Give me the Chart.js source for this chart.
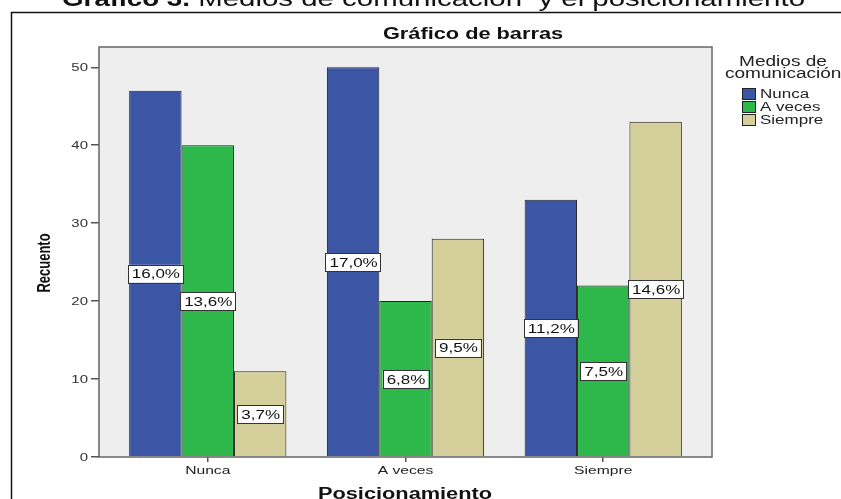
<!DOCTYPE html>
<html>
<head>
<meta charset="utf-8">
<script src="https://cdn.jsdelivr.net/npm/chart.js@4.4.1/dist/chart.umd.min.js"></script>
<style>
    html, body { margin: 0; padding: 0; background: #fff; overflow: hidden; }
    #wrap { width: 841px; height: 499px; overflow: hidden; }
</style>
</head>
<body>
<div id="wrap"><canvas id="barChart" width="841" height="520"></canvas></div>
<script>
// Chart data
const categories = ['Nunca', 'A veces', 'Siempre'];
const seriesNames = ['Nunca', 'A veces', 'Siempre'];
const nuncaValues = [47, 50, 33];
const aVecesValues = [40, 20, 22];
const siempreValues = [11, 28, 43];
const yTicks = [0, 10, 20, 30, 40, 50];

const seriesColors = ['#3c56a6', '#2eb84b', '#d4cf9b'];
const allValues = [nuncaValues, aVecesValues, siempreValues];
const grandTotal = allValues.flat().reduce((a, b) => a + b, 0);
const FONT = '"Liberation Sans", Arial, sans-serif';
const STRETCH = 1.36; // the original image is widened horizontally

// text drawn wider than normal, like the source picture
function wideText(ctx, txt, x, y, align, sx) {
    ctx.save();
    ctx.translate(x, y);
    ctx.scale(sx || STRETCH, 1);
    ctx.textAlign = align || 'left';
    ctx.fillText(txt, 0, 0);
    ctx.restore();
}

function fitText(ctx, txt, x, y, width) {
    const w = ctx.measureText(txt).width;
    wideText(ctx, txt, x, y, 'left', width / w);
}

const framePlugin = {
    id: 'frame',
    beforeDraw(chart) {
        const ctx = chart.ctx;
        const area = chart.chartArea;
        ctx.save();
        ctx.fillStyle = '#fff';
        ctx.fillRect(0, 0, chart.width, chart.height);

        // main title (cut at top)
        ctx.fillStyle = '#111';
        ctx.textBaseline = 'alphabetic';
        ctx.font = 'bold 22px ' + FONT;
        fitText(ctx, 'Gráfico 3.', 62, 6, 128);
        ctx.font = '22px ' + FONT;
        fitText(ctx, ' Medios de comunicación  y el posicionamiento', 190, 6, 615);

        // outer frame
        ctx.strokeStyle = '#111';
        ctx.lineWidth = 1.5;
        ctx.strokeRect(11.5, 12.5, 1000, 600);

        // chart title
        ctx.font = 'bold 16px ' + FONT;
        ctx.textBaseline = 'middle';
        wideText(ctx, 'Gráfico de barras', 473, 35, 'center');

        // axis titles
        wideText(ctx, 'Posicionamiento', 405, 495, 'center');
        ctx.save();
        ctx.translate(45, 263);
        ctx.rotate(-Math.PI / 2);
        ctx.scale(1, STRETCH);
        ctx.textAlign = 'center';
        ctx.font = 'bold 13px ' + FONT;
        ctx.fillText('Recuento', 0, 0);
        ctx.restore();

        // plot background
        ctx.fillStyle = '#eeeeee';
        ctx.fillRect(area.left, area.top, area.right - area.left, area.bottom - area.top);
        ctx.restore();
    },
    afterDatasetsDraw(chart) {
        const ctx = chart.ctx;
        const area = chart.chartArea;
        const xScale = chart.scales.x;
        const yScale = chart.scales.y;
        ctx.save();

        // plot border
        ctx.strokeStyle = '#666';
        ctx.lineWidth = 1.5;
        ctx.strokeRect(area.left, area.top, area.right - area.left, area.bottom - area.top);

        // tick labels
        ctx.fillStyle = '#333';
        ctx.textBaseline = 'middle';
        ctx.font = '11px ' + FONT;
        yTicks.forEach(v => {
            wideText(ctx, String(v), 88, yScale.getPixelForValue(v) + 1, 'right');
        });
        ctx.fillStyle = '#222';
        ctx.font = '11.5px ' + FONT;
        categories.forEach((c, i) => {
            wideText(ctx, c, xScale.getPixelForValue(i + 1), 471, 'center');
        });

        // percent labels
        ctx.font = '12.5px ' + FONT;
        chart.data.datasets.forEach((ds, di) => {
            const meta = chart.getDatasetMeta(di);
            meta.data.forEach((bar, i) => {
                const v = ds.data[i].y;
                const txt = (v / grandTotal * 100).toFixed(1).replace('.', ',') + '%';
                const y = yScale.getPixelForValue(v / 2);
                const w = ctx.measureText(txt).width * STRETCH + 7;
                const h = 18;
                ctx.fillStyle = '#fff';
                ctx.fillRect(bar.x - w / 2, y - h / 2, w, h);
                ctx.strokeStyle = '#333';
                ctx.lineWidth = 1;
                ctx.strokeRect(Math.round(bar.x - w / 2) + 0.5, Math.round(y - h / 2) + 0.5, Math.round(w), h);
                ctx.fillStyle = '#111';
                wideText(ctx, txt, bar.x + 0.5, y + 1, 'center');
            });
        });

        // legend
        ctx.fillStyle = '#222';
        ctx.font = '14px ' + FONT;
        wideText(ctx, 'Medios de', 783, 62, 'center');
        wideText(ctx, 'comunicación', 725, 74, 'left');
        ctx.font = '12.5px ' + FONT;
        chart.data.datasets.forEach((ds, di) => {
            const cy = 94 + di * 13;
            ctx.fillStyle = ds.backgroundColor;
            ctx.fillRect(742, cy - 6, 14, 12);
            ctx.strokeStyle = '#222';
            ctx.lineWidth = 1;
            ctx.strokeRect(742.5, cy - 5.5, 13, 11);
            ctx.fillStyle = '#222';
            wideText(ctx, ds.label, 760, cy + 1, 'left');
        });
        ctx.restore();
    }
};

const ctx = document.getElementById('barChart').getContext('2d');
new Chart(ctx, {
    type: 'bar',
    data: {
        datasets: seriesNames.map((name, si) => ({
            label: name,
            data: categories.map((c, ci) => ({ x: ci + 1, y: allValues[si][ci] })),
            backgroundColor: seriesColors[si],
            borderColor: '#222',
            borderWidth: 1,
            barPercentage: 1,
            categoryPercentage: 0.795
        }))
    },
    options: {
        responsive: false,
        animation: false,
        layout: {
            padding: { left: 32, top: 47, right: 129, bottom: 0 }
        },
        plugins: {
            legend: { display: false },
            title: { display: false },
            tooltip: { enabled: false }
        },
        scales: {
            x: {
                type: 'linear',
                min: 0.45,
                max: 3.55,
                offset: false,
                afterBuildTicks: scale => {
                    scale.ticks = categories.map((c, i) => ({ value: i + 1 }));
                },
                afterFit: scale => { scale.height = 63; },
                grid: {
                    offset: false,
                    drawOnChartArea: false,
                    drawTicks: true,
                    tickLength: 5,
                    color: '#555',
                    lineWidth: 1.5
                },
                border: { display: false },
                ticks: { color: 'rgba(0,0,0,0)' }
            },
            y: {
                min: 0,
                max: 52.6,
                afterBuildTicks: scale => {
                    scale.ticks = yTicks.map(v => ({ value: v }));
                },
                afterFit: scale => { scale.width = 67; },
                grid: {
                    drawOnChartArea: false,
                    drawTicks: true,
                    tickLength: 8,
                    color: '#555',
                    lineWidth: 1.5
                },
                border: { display: false },
                ticks: { color: 'rgba(0,0,0,0)' }
            }
        }
    },
    plugins: [framePlugin]
});
</script>
</body>
</html>
